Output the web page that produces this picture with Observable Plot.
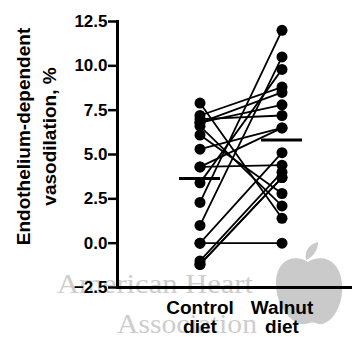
<!DOCTYPE html>
<html><head><meta charset="utf-8">
<script src="https://cdn.jsdelivr.net/npm/d3@7"></script>
<script src="https://cdn.jsdelivr.net/npm/@observablehq/plot@0.6"></script>
<style>
body{margin:0;background:#fff;}
#wrap{position:relative;width:352px;height:337px;overflow:hidden;}
#wm{position:absolute;left:0;top:0;}
#chart{position:absolute;left:0;top:0;}
</style></head><body>
<div id="wrap">
<svg id="wm" width="352" height="337">
  <path d="M308,262 C296,254 276,258 276,284 C276,306 292,326 306,324 C312,322 314,322 318,324 C332,326 344,304 342,284 C340,258 320,254 308,262 Z M306,260 C304,250 310,244 318,242 C318,250 314,256 306,260 Z" fill="#cacaca"/>
  <text x="57" y="293" font-family="'Liberation Serif', serif" font-size="27" fill="#cdcdcd" textLength="196" lengthAdjust="spacingAndGlyphs">American Heart</text>
  <text x="117" y="333" font-family="'Liberation Serif', serif" font-size="28" fill="#cdcdcd" textLength="140" lengthAdjust="spacingAndGlyphs">Association</text>
</svg>
<div id="chart"></div>
</div>
<script>
const diets = ["Control diet", "Walnut diet"];
const controlDiet = [7.9, 7.2, 7.0, 6.8, 6.8, 6.6, 6.1, 5.3, 4.3, 4.3, 3.4, 2.3, 1.0, 0.0, 0.0, -1.0, -1.2, -1.2];
const walnutDiet  = [1.4, 8.8, 7.2, 8.5, 7.8, 2.1, 2.8, 6.5, 4.4, 6.5, 9.8, 12.0, 10.5, 0.0, 5.1, 4.0, 3.7, 3.7];
const yTicks = [-2.5, 0, 2.5, 5, 7.5, 10, 12.5];
const yTitle = ["Endothelium-dependent", "vasodilation, %"];

const rows = controlDiet.flatMap((c, i) => [
  {subject: i, diet: diets[0], value: c},
  {subject: i, diet: diets[1], value: walnutDiet[i]}
]);

const chart = Plot.plot({
  width: 352, height: 337,
  marginLeft: 117, marginRight: 0, marginTop: 21, marginBottom: 50,
  style: {fontFamily: "'Liberation Sans', Arial, sans-serif", fontWeight: "bold", background: "transparent", color: "black"},
  x: {type: "band", domain: diets, paddingInner: 0.494, paddingOuter: 0.663, align: 0.555},
  y: {domain: [yTicks[0], yTicks[yTicks.length - 1]]},
  marks: [
    Plot.axisY({ticks: yTicks, tickFormat: d3.format(".1f"), tickSize: 9, tickPadding: 1, strokeWidth: 2.5, fontSize: 17, label: null}),
    Plot.axisX({tickSize: 0, tickPadding: 13, fontSize: 19, lineHeight: 1, tickFormat: d => d.replace(" ", "\n"), label: null}),
    Plot.frame({anchor: "left", strokeWidth: 3}),
    Plot.frame({anchor: "bottom", strokeWidth: 3}),
    Plot.text([yTitle.join("\n")], {frameAnchor: "left", rotate: -90, textAnchor: "middle", dx: -83, dy: -18, fontSize: 19, lineHeight: 1.4, fill: "black"}),
    Plot.line(rows, {x: "diet", y: "value", z: "subject", stroke: "black", strokeWidth: 1.8}),
    Plot.tickY(rows, Plot.groupX({y: "mean"}, {x: "diet", y: "value", strokeWidth: 3, stroke: "black"})),
    Plot.dot(rows, {x: "diet", y: "value", r: 5.5, fill: "black"})
  ]
});
document.getElementById("chart").appendChild(chart);
</script>
</body></html>
